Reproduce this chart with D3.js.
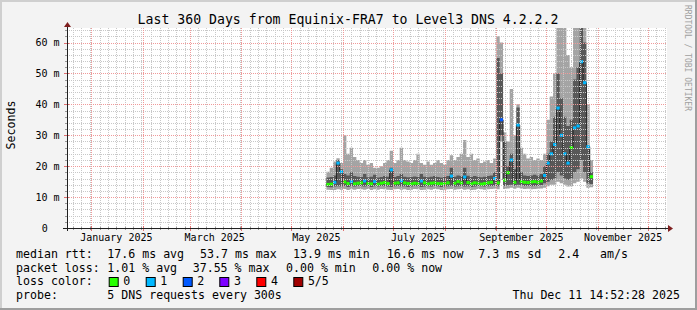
<!DOCTYPE html>
<html><head><meta charset="utf-8">
<script src="https://cdn.jsdelivr.net/npm/d3@7"></script>
<style>
body{margin:0;background:#f3f3f3}
svg{display:block}
text{font-family:"DejaVu Sans Mono",monospace;fill:#000}
</style>
</head><body>
<svg id="c" width="697" height="310"></svg>
<script>
// ---------------- data ----------------
const title = "Last 360 Days from Equinix-FRA7 to Level3 DNS 4.2.2.2";
const firstBin = "2025-05-22";   // start of first 2-day bin
const binDays = 2;
// five sorted pings per bin (ms): min, 2nd, median, 4th, max
const pingMin = [12.4,12.3,12.3,12.5,12.4,12.6,12.3,12.5,12.4,12.6, 12.5,12.4,12.6,12.3,12.5,12.4,12.6,12.5,12.4,12.3,
  12.5,12.6,12.4,12.5,12.3,12.4,12.6,12.5,12.3,12.4, 12.5,12.4,12.6,12.5,12.3,12.4,12.5,12.6,12.4,12.5,
  12.6,12.4,12.5,12.3,12.4,12.6,12.5,12.4,12.5,12.6, 12.7,
  12.5,28.0,12.6,12.8,13.0,12.7,13.0,12.8,12.6,12.7, 12.5,12.6,12.7,12.8,13.0,13.5,14.0,14.0,15.0,14.5,
  14.0,13.4,13.5,14.5,15.0,16.0,15.0,13.0,13.2];
const ping2 = [13.3,13.2,13.4,13.5,13.4,13.6,13.3,13.5,13.4,13.6, 13.5,13.4,13.6,13.3,13.5,13.4,13.6,13.5,13.4,13.3,
  13.5,13.6,13.4,13.5,13.3,13.4,13.6,13.5,13.3,13.4, 13.5,13.4,13.6,13.5,13.3,13.4,13.5,13.6,13.4,13.5,
  13.6,13.4,13.5,13.3,13.4,13.6,13.5,13.4,13.5,13.6, 13.7,
  13.5,30.0,13.6,13.8,14.0,13.7,14.0,13.8,13.6,13.7, 13.5,13.6,13.7,13.9,14.5,15.0,15.5,16.0,18.0,17.0,
  16.0,15.5,16.0,18.0,19.0,22.0,18.0,14.5,14.2];
const median = [14.1,14.2,14.8,21.0,18.2,14.9,14.4,15.0,14.3,14.5, 14.6,15.2,14.4,14.3,15.0,14.2,14.5,14.7,14.4,18.8,
  14.5,14.6,15.3,14.6,14.4,14.3,14.5,14.4,15.2,14.6, 14.3,14.5,14.6,14.4,14.3,14.4,14.6,16.8,14.5,15.0,
  14.6,16.5,14.7,14.3,14.6,14.5,14.2,14.4,14.6,14.8, 16.0,
  14.6,35.0,15.5,17.9,22.0,14.8,33.3,15.0,14.8,14.7, 14.9,15.0,14.8,15.2,17.0,21.0,24.0,27.0,38.8,30.0,
  24.0,21.0,26.0,32.4,33.0,53.8,47.0,26.3,16.6];
const ping4 = [16.3,16.5,17.0,22.0,19.0,17.5,17.0,18.0,16.8,16.6, 16.5,17.5,16.4,16.6,17.2,16.3,16.5,16.8,16.6,19.5,
  16.5,16.8,17.5,16.6,16.4,16.5,16.7,16.5,17.5,16.6, 16.4,16.6,16.8,16.5,16.3,16.6,16.8,19.5,16.6,17.0,
  16.8,19.5,16.9,16.5,16.8,16.6,16.4,16.6,16.8,17.0, 18.0,
  55.0,50.0,28.0,20.0,24.0,19.0,39.0,18.0,17.0,16.8, 17.0,17.2,16.9,17.5,20.0,24.0,28.0,36.0,50.0,42.0,
  36.0,33.0,35.0,48.0,52.0,66.0,60.0,26.0,18.0];
const pingMax = [18.2,19.5,21.5,22.6,21.0,30.0,24.0,26.0,23.0,22.0, 21.0,22.0,20.5,21.0,19.5,19.5,20.0,21.0,22.0,25.0,
  21.0,22.0,26.0,22.0,21.5,21.0,22.0,24.0,21.0,20.5, 21.5,20.5,21.0,22.0,21.0,20.5,22.0,23.5,22.0,23.0,
  24.0,28.5,23.0,24.0,22.0,22.5,21.0,21.5,22.0,21.0, 22.5,
  62.0,60.0,31.0,28.0,45.0,30.0,40.0,26.0,24.0,22.5, 23.0,22.0,22.5,22.0,24.0,35.0,42.5,50.0,66.0,66.0,
  66.0,56.0,52.0,66.0,66.0,66.0,66.0,40.0,22.0];
// lost pings (of 5) per bin
const lost = [0,0,1,1,1,0,0,1,0,0, 0,1,0,0,1,0,0,0,0,1,
  0,0,1,0,0,0,0,0,1,0, 0,0,0,0,0,0,0,1,0,0,
  0,1,0,0,0,0,0,0,0,0, 1,
  0,2,0,0,1,0,1,0,0,0, 0,0,0,0,1,1,1,1,1,1,
  1,1,0,1,1,1,1,1,0];

const lossLabels = ["0","1","2","3","4","5/5"];
const lossColors = ["#26ff00","#00b8ff","#0059ff","#7e00ff","#ff0000","#a00000"];
const yTicks = [0,10,20,30,40,50,60];
const xLabels = ["January 2025","March 2025","May 2025","July 2025","September 2025","November 2025"];
const xLabelDates = ["2025-01-16","2025-03-16","2025-05-16","2025-07-16","2025-09-16","2025-11-16"];
const legendRtt = ["median rtt:","17.6 ms avg","53.7 ms max","13.9 ms min","16.6 ms now","7.3 ms sd","2.4","am/s"];
const legendLoss = ["packet loss:","1.01 % avg","37.55 % max","0.00 % min","0.00 % now"];
const probeText = ["probe:","5 DNS requests every 300s"];
const stamp = "Thu Dec 11 14:52:28 2025";

// ---------------- drawing ----------------
const svg = d3.select("#c");
const W = 697, H = 310;
const L = 67, R = 667, T = 28, B = 228;
const x = d3.scaleUtc().domain([new Date(Date.UTC(2024,11,17,9)), new Date(Date.UTC(2025,11,12,9))]).range([L,R]);
const y = d3.scaleLinear().domain([0,64.7]).range([B,T]);

// background & 3d frame
svg.append("rect").attr("width",W).attr("height",H).attr("fill","#f3f3f3");
svg.append("path").attr("d",`M0,${H}V0H${W}`).attr("fill","none").attr("stroke","#cfcfcf").attr("stroke-width",4);
svg.append("path").attr("d",`M0,${H}H${W}V0`).attr("fill","none").attr("stroke","#9e9e9e").attr("stroke-width",4);
svg.append("rect").attr("x",L).attr("y",T).attr("width",R-L).attr("height",B-T).attr("fill","#fff");

svg.append("clipPath").attr("id","clip").append("rect").attr("x",L).attr("y",T).attr("width",R-L).attr("height",B-T);

const t0 = d3.utcParse("%Y-%m-%d")(firstBin);
const bins = pingMin.map((v,i)=>({
  d0: d3.utcDay.offset(t0, i*binDays), d1: d3.utcDay.offset(t0,(i+1)*binDays),
  lo: v, p2: ping2[i], med: median[i], p4: ping4[i], hi: pingMax[i], loss: lost[i]}));
const stepPts = bins.flatMap(b=>[{t:b.d0,b},{t:b.d1,b}]);

const g = svg.append("g").attr("clip-path","url(#clip)");
g.append("path").datum(stepPts)
  .attr("d", d3.area().x(p=>x(p.t)).y0(p=>y(p.b.lo)).y1(p=>y(p.b.hi)))
  .attr("fill","#a4a4a4");
g.append("path").datum(stepPts)
  .attr("d", d3.area().x(p=>x(p.t)).y0(p=>y(p.b.p2)).y1(p=>y(p.b.p4)))
  .attr("fill","#585858");
g.append("path").datum(stepPts)
  .attr("d", d3.line().x(p=>x(p.t)).y(p=>y(p.b.med)))
  .attr("fill","none").attr("stroke","#202020").attr("stroke-width",1);
g.selectAll("rect.med").data(bins).join("rect")
  .attr("x",b=>x(b.d0)).attr("width",b=>x(b.d1)-x(b.d0))
  .attr("y",b=>y(b.med)-1.5).attr("height",3)
  .attr("fill",b=>lossColors[b.loss]);

// grid (on top, as rrdtool)
const grid = svg.append("g").attr("shape-rendering","crispEdges");
const minorH = d3.range(2,65,2).filter(v=>v%10!==0);
grid.selectAll("line.hm").data(minorH).join("line")
  .attr("x1",L).attr("x2",R).attr("y1",v=>Math.round(y(v))+0.5).attr("y2",v=>Math.round(y(v))+0.5)
  .attr("stroke","#c8c8c8").attr("stroke-dasharray","1,1");
const dayMinor = d3.utcDay.every(5).range(x.domain()[0], x.domain()[1]).filter(d=>d.getUTCDate()!==1);
grid.selectAll("line.vm").data(dayMinor).join("line")
  .attr("x1",d=>Math.round(x(d))+0.5).attr("x2",d=>Math.round(x(d))+0.5).attr("y1",T).attr("y2",B)
  .attr("stroke","#c8c8c8").attr("stroke-dasharray","1,1");
grid.selectAll("line.hM").data(yTicks.slice(1)).join("line")
  .attr("x1",L).attr("x2",R).attr("y1",v=>Math.round(y(v))+0.5).attr("y2",v=>Math.round(y(v))+0.5)
  .attr("stroke","#f09a9a").attr("stroke-dasharray","1,1");
const months = d3.utcMonth.range(x.domain()[0], x.domain()[1]);
grid.selectAll("line.vM").data(months).join("line")
  .attr("x1",d=>Math.round(x(d))+0.5).attr("x2",d=>Math.round(x(d))+0.5).attr("y1",T).attr("y2",B)
  .attr("stroke","#f09a9a").attr("stroke-dasharray","1,1");

// axis ticks
grid.selectAll("line.tm").data(dayMinor).join("line")
  .attr("x1",d=>Math.round(x(d))+0.5).attr("x2",d=>Math.round(x(d))+0.5).attr("y1",B-1).attr("y2",B+2)
  .attr("stroke","#999");
grid.selectAll("line.tM").data(months).join("line")
  .attr("x1",d=>Math.round(x(d))+0.5).attr("x2",d=>Math.round(x(d))+0.5).attr("y1",B-2).attr("y2",B+3)
  .attr("stroke","#e07070");
grid.selectAll("line.ty").data(yTicks.slice(1)).join("line")
  .attr("x1",L-3).attr("x2",L+2).attr("y1",v=>Math.round(y(v))+0.5).attr("y2",v=>Math.round(y(v))+0.5)
  .attr("stroke","#e07070");
grid.selectAll("line.tyy").data(minorH).join("line")
  .attr("x1",L-2).attr("x2",L+1).attr("y1",v=>Math.round(y(v))+0.5).attr("y2",v=>Math.round(y(v))+0.5)
  .attr("stroke","#999");

// axes
svg.append("line").attr("x1",L-4).attr("x2",R+3).attr("y1",B+0.5).attr("y2",B+0.5).attr("stroke","#202020");
svg.append("line").attr("x1",L+0.5).attr("x2",L+0.5).attr("y1",B+3).attr("y2",T-3).attr("stroke","#202020");
svg.append("path").attr("d",`M${R+1},${B-3}L${R+6},${B+0.5}L${R+1},${B+4}Z`).attr("fill","#7f1f1f");
svg.append("path").attr("d",`M${L-3},${T-1}L${L+0.5},${T-6}L${L+4},${T-1}Z`).attr("fill","#7f1f1f");

// axis labels
svg.selectAll("text.yl").data(yTicks).join("text")
  .attr("x",v=>v===0?44.7:59.5).attr("y",v=>y(v)+3.5)
  .attr("text-anchor",v=>v===0?"middle":"end").attr("font-size",10)
  .text(v=>v===0?"0":`${v} m`);
svg.selectAll("text.xl").data(xLabels).join("text")
  .attr("x",(s,i)=>x(d3.utcParse("%Y-%m-%d")(xLabelDates[i]))).attr("y",241)
  .attr("text-anchor","middle").attr("font-size",10).text(s=>s);

// title and side labels
svg.append("text").attr("x",348).attr("y",24).attr("text-anchor","middle").attr("font-size",13.2).text(title);
svg.append("text").attr("transform","translate(14.5,125) rotate(-90)").attr("text-anchor","middle")
  .attr("font-size",11.6).text("Seconds");
svg.append("text").attr("transform","translate(685,5) rotate(90)").attr("font-size",8)
  .style("fill","#a0a0a0").text("RRDTOOL / TOBI OETIKER");

// legend
const fs = 11.6;
const rttX = [16,107.3,200,293,386.7,478.3,558.3,600];
svg.selectAll("text.r1").data(legendRtt).join("text").attr("x",(s,i)=>rttX[i]).attr("y",258).attr("font-size",fs).text(s=>s);
const lossX = [16,107.3,192.7,286,372.3];
svg.selectAll("text.r2").data(legendLoss).join("text").attr("x",(s,i)=>lossX[i]).attr("y",271.5).attr("font-size",fs).text(s=>s);
svg.append("text").attr("x",16).attr("y",285).attr("font-size",fs).text("loss color:");
const boxX = [108.7,145.7,182.7,219.3,256.3,293.3];
svg.selectAll("rect.lb").data(lossColors).join("rect")
  .attr("x",(c,i)=>boxX[i]+0.5).attr("y",277.5).attr("width",9).attr("height",9)
  .attr("fill",c=>c).attr("stroke","#000");
svg.selectAll("text.r3").data(lossLabels).join("text").attr("x",(s,i)=>boxX[i]+14.6).attr("y",285).attr("font-size",fs).text(s=>s);
svg.append("text").attr("x",16).attr("y",298.5).attr("font-size",fs).text(probeText[0]);
svg.append("text").attr("x",107.3).attr("y",298.5).attr("font-size",fs).text(probeText[1]);
svg.append("text").attr("x",680).attr("y",298.5).attr("text-anchor","end").attr("font-size",fs).text(stamp);
</script>
</body></html>
